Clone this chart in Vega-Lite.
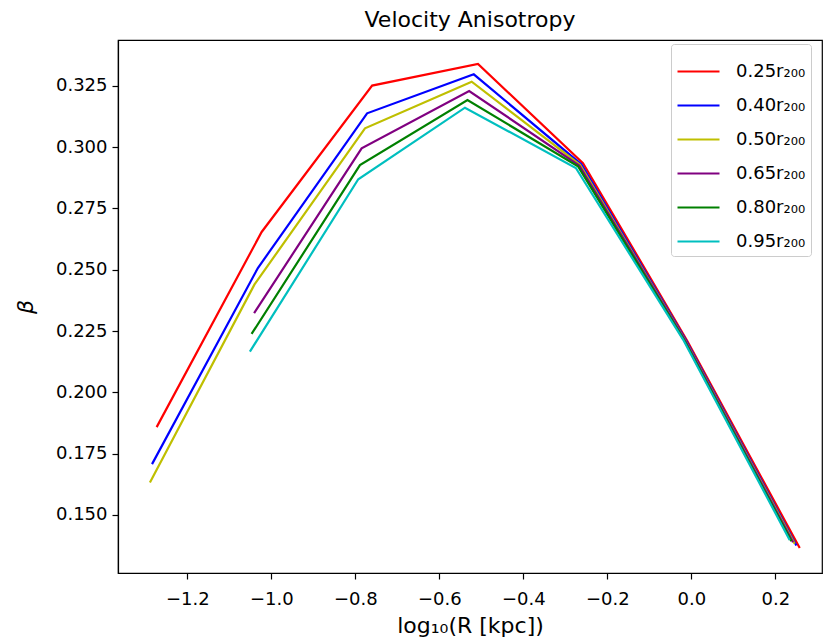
{
  "$schema": "https://vega.github.io/schema/vega-lite/v6.json",
  "width": 704,
  "height": 533,
  "autosize": "none",
  "padding": {"left": 118, "top": 40, "right": 2, "bottom": 71},
  "background": "white",
  "title": {"text": "Velocity Anisotropy", "font": "DejaVu Sans", "fontSize": 22, "fontWeight": "normal", "color": "black", "offset": 8},
  "config": {
    "view": {"stroke": "black", "strokeWidth": 1.2},
    "axis": {"grid": false, "domainColor": "black", "tickColor": "black", "labelColor": "black", "titleColor": "black", "labelFont": "DejaVu Sans", "titleFont": "DejaVu Sans", "labelFontSize": 18, "titleFontSize": 22, "titleFontWeight": "normal", "tickSize": 6, "domainWidth": 1.2, "tickWidth": 1.2}
  },
  "data": {"values": [
    {"s": "0.25r₂₀₀", "x": -1.273, "y": 0.1858},
    {"s": "0.25r₂₀₀", "x": -1.023, "y": 0.2654},
    {"s": "0.25r₂₀₀", "x": -0.760, "y": 0.3251},
    {"s": "0.25r₂₀₀", "x": -0.508, "y": 0.3339},
    {"s": "0.25r₂₀₀", "x": -0.258, "y": 0.2935},
    {"s": "0.25r₂₀₀", "x": -0.010, "y": 0.2210},
    {"s": "0.25r₂₀₀", "x": 0.258, "y": 0.1365},
    {"s": "0.40r₂₀₀", "x": -1.284, "y": 0.1707},
    {"s": "0.40r₂₀₀", "x": -1.032, "y": 0.2507},
    {"s": "0.40r₂₀₀", "x": -0.772, "y": 0.3138},
    {"s": "0.40r₂₀₀", "x": -0.518, "y": 0.3297},
    {"s": "0.40r₂₀₀", "x": -0.262, "y": 0.2930},
    {"s": "0.40r₂₀₀", "x": -0.013, "y": 0.2212},
    {"s": "0.40r₂₀₀", "x": 0.250, "y": 0.1375},
    {"s": "0.50r₂₀₀", "x": -1.289, "y": 0.1632},
    {"s": "0.50r₂₀₀", "x": -1.040, "y": 0.2440},
    {"s": "0.50r₂₀₀", "x": -0.777, "y": 0.3077},
    {"s": "0.50r₂₀₀", "x": -0.523, "y": 0.3267},
    {"s": "0.50r₂₀₀", "x": -0.265, "y": 0.2928},
    {"s": "0.50r₂₀₀", "x": -0.015, "y": 0.2213},
    {"s": "0.50r₂₀₀", "x": 0.246, "y": 0.1382},
    {"s": "0.65r₂₀₀", "x": -1.041, "y": 0.2323},
    {"s": "0.65r₂₀₀", "x": -0.785, "y": 0.2995},
    {"s": "0.65r₂₀₀", "x": -0.529, "y": 0.3229},
    {"s": "0.65r₂₀₀", "x": -0.267, "y": 0.2925},
    {"s": "0.65r₂₀₀", "x": -0.016, "y": 0.2214},
    {"s": "0.65r₂₀₀", "x": 0.242, "y": 0.1388},
    {"s": "0.80r₂₀₀", "x": -1.047, "y": 0.2238},
    {"s": "0.80r₂₀₀", "x": -0.789, "y": 0.2927},
    {"s": "0.80r₂₀₀", "x": -0.533, "y": 0.3192},
    {"s": "0.80r₂₀₀", "x": -0.270, "y": 0.2922},
    {"s": "0.80r₂₀₀", "x": -0.018, "y": 0.2215},
    {"s": "0.80r₂₀₀", "x": 0.238, "y": 0.1393},
    {"s": "0.95r₂₀₀", "x": -1.051, "y": 0.2166},
    {"s": "0.95r₂₀₀", "x": -0.793, "y": 0.2869},
    {"s": "0.95r₂₀₀", "x": -0.539, "y": 0.3161},
    {"s": "0.95r₂₀₀", "x": -0.275, "y": 0.2915},
    {"s": "0.95r₂₀₀", "x": -0.020, "y": 0.2216},
    {"s": "0.95r₂₀₀", "x": 0.234, "y": 0.1398}
  ]},
  "mark": {"type": "line", "strokeWidth": 2.2, "clip": true},
  "encoding": {
    "x": {"field": "x", "type": "quantitative", "scale": {"domain": [-1.365, 0.311], "nice": false, "zero": false},
      "axis": {"title": "log₁₀(R [kpc])", "values": [-1.2, -1.0, -0.8, -0.6, -0.4, -0.2, 0.0, 0.2], "format": ".1f", "labelPadding": 11, "titlePadding": 7}},
    "y": {"field": "y", "type": "quantitative", "scale": {"domain": [0.1263, 0.3437], "nice": false, "zero": false},
      "axis": {"title": "β", "titleFontStyle": "italic", "titleAngle": -90, "values": [0.15, 0.175, 0.2, 0.225, 0.25, 0.275, 0.3, 0.325], "format": ".3f", "labelPadding": 5, "titlePadding": 18}},
    "color": {"field": "s", "type": "nominal", "sort": null,
      "scale": {"domain": ["0.25r₂₀₀", "0.40r₂₀₀", "0.50r₂₀₀", "0.65r₂₀₀", "0.80r₂₀₀", "0.95r₂₀₀"], "range": ["#ff0000", "#0000ff", "#bfbf00", "#800080", "#008000", "#00bfbf"]},
      "legend": {"title": null, "orient": "none", "legendX": 553, "legendY": 4, "symbolType": "stroke", "symbolStrokeWidth": 2.2, "symbolSize": 1764, "labelFont": "DejaVu Sans", "labelFontSize": 18, "labelColor": "black", "rowPadding": 2, "padding": 5, "fillColor": "white", "strokeColor": "#cccccc", "cornerRadius": 3, "labelOffset": 15}}
  }
}
